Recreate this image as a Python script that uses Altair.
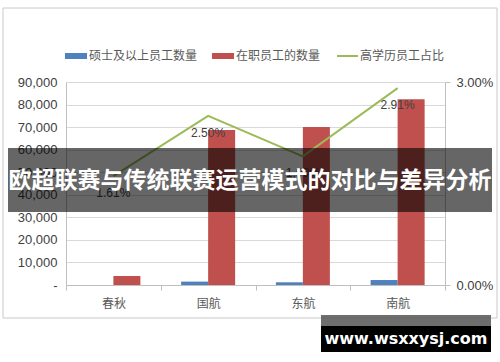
import altair as alt
import pandas as pd

categories = ["春秋", "国航", "东航", "南航"]
masters = [0, 1500, 1200, 2200]
staff = [4000, 68700, 70000, 82300]
ratio = [0.0161, 0.0250, 0.0190, 0.0291]
ratio_labels = ["1.61%", "2.50%", "1.90%", "2.91%"]
series_names = ["硕士及以上员工数量", "在职员工的数量", "高学历员工占比"]
colors = ["#4f81bd", "#c0504d", "#9bbb59"]
title_text = "欧超联赛与传统联赛运营模式的对比与差异分析"
watermark = "www.wsxxysj.com"

FONT = "Noto Sans CJK SC"
TXT = "#595959"
W, H = 379, 203
L, T = 66, 82

bars_df = pd.DataFrame({
    "cat": categories * 2,
    "series": [series_names[0]] * 4 + [series_names[1]] * 4,
    "value": masters + staff,
})
line_df = pd.DataFrame({"cat": categories, "ratio": ratio, "label": ratio_labels})

xenc = alt.X("cat:N", sort=categories, title=None,
             scale=alt.Scale(paddingInner=0, paddingOuter=0),
             axis=alt.Axis(tickBand="extent", labelAngle=0, labelFont=FONT, labelFontSize=12,
                           labelColor=TXT, domainColor="#bfbfbf", tickColor="#bfbfbf",
                           tickSize=5, labelPadding=8, grid=False))

bars = alt.Chart(bars_df).mark_bar().encode(
    x=xenc,
    xOffset=alt.XOffset("series:N", sort=series_names[:2],
                        scale=alt.Scale(paddingInner=0, paddingOuter=0.754)),
    y=alt.Y("value:Q", title=None,
            scale=alt.Scale(domain=[0, 90000]),
            axis=alt.Axis(orient="left", values=list(range(0, 90001, 10000)),
                          labelExpr="datum.value == 0 ? '-' : format(datum.value, ',')",
                          labelFont="Liberation Sans", labelFontSize=13, labelColor="#404040",
                          gridColor="#d9d9d9", domainColor="#bfbfbf", ticks=False,
                          labelPadding=9)),
    color=alt.Color("series:N", scale=alt.Scale(domain=series_names[:2], range=colors[:2]),
                    legend=None),
)

line_y = alt.Y("ratio:Q", title=None, scale=alt.Scale(domain=[0, 0.03]),
               axis=alt.Axis(orient="right", values=[0, 0.03], format=".2%",
                             labelFont="Liberation Sans", labelFontSize=13, labelColor="#404040",
                             grid=False, domainColor="#bfbfbf", tickColor="#bfbfbf",
                             tickSize=5, labelPadding=6))
line = alt.Chart(line_df).mark_line(color=colors[2], strokeWidth=2).encode(
    x=alt.X("cat:N", sort=categories), y=line_y)
line_text = alt.Chart(line_df).mark_text(dy=17, font="Liberation Sans", fontSize=12,
                                         color="#404040").encode(
    x=alt.X("cat:N", sort=categories), y=alt.Y("ratio:Q"), text="label:N")
right = alt.layer(line, line_text)

one = pd.DataFrame({"k": [0]})

def rect(x, x2, y, y2, **kw):
    return alt.Chart(one).mark_rect(**kw).encode(
        x=alt.value(x - L), x2=alt.value(x2 - L), y=alt.value(y - T), y2=alt.value(y2 - T))

def text(t, x, y, **kw):
    return alt.Chart(one).mark_text(**kw).encode(
        x=alt.value(x - L), y=alt.value(y - T), text=alt.value(t))

border = rect(3, 497, 8, 318, fill=None, stroke="#c8c8c8", strokeWidth=1)
leg = [
    rect(65, 87, 53, 59, color=colors[0]),
    text(series_names[0], 89, 56, align="left", font=FONT, fontSize=12, color=TXT),
    rect(212, 234, 53, 59, color=colors[1]),
    text(series_names[1], 236, 56, align="left", font=FONT, fontSize=12, color=TXT),
    alt.Chart(one).mark_rule(color=colors[2], strokeWidth=2).encode(
        x=alt.value(337 - L), x2=alt.value(358 - L), y=alt.value(56 - T)),
    text(series_names[2], 360, 56, align="left", font=FONT, fontSize=12, color=TXT),
]
band = rect(8, 492, 148, 212, color="#000000", opacity=0.6)
band_text = text(title_text, 250, 181, align="center", baseline="middle", font=FONT,
                 fontSize=23, fontWeight="bold", color="#ffffff")
wm_strip = rect(321, 491, 315, 326, color="#555555", opacity=0.85)
wm_box = rect(321, 491, 326, 352, color="#000000")
wm_text = text(watermark, 406, 339, align="center", baseline="middle", font="DejaVu Sans",
               fontSize=16, fontWeight="bold", color="#ffffff")

main = alt.layer(bars, right).resolve_scale(y="independent")

chart = alt.layer(border, main, *leg, band, band_text, wm_strip, wm_box, wm_text).properties(
    width=W, height=H,
    autosize=alt.AutoSizeParams(type="none"),
    padding={"left": L, "top": T, "right": 500 - L - W, "bottom": 362 - T - H},
    background="#ffffff",
).configure_view(stroke=None)

chart.save("out.html", embed_options={"renderer": "svg", "actions": False})
